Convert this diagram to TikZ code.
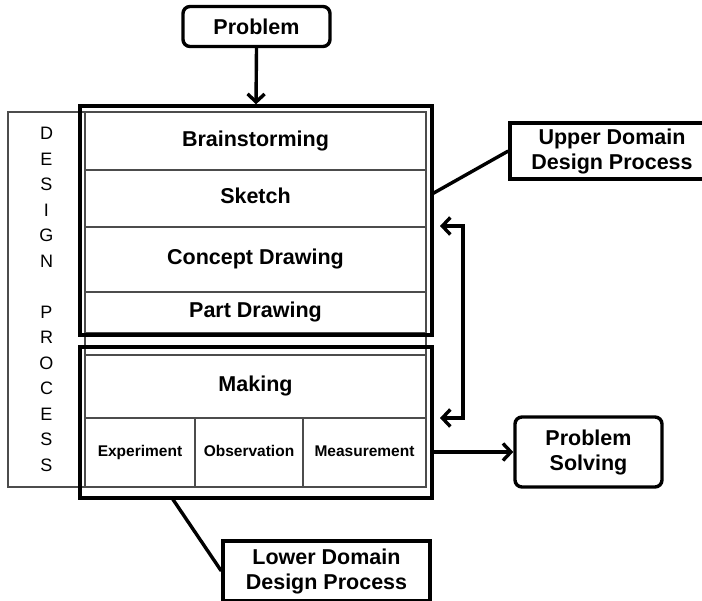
\documentclass[tikz,border=0pt]{standalone}
\usepackage{fontspec}
\setmainfont{Liberation Sans}
\usetikzlibrary{arrows.meta}
\begin{document}
\begin{tikzpicture}[x=1pt,y=-1pt,
  >={Straight Barb[length=8pt,width=17pt,line width=3.4pt]},
  thickline/.style={line width=3.4pt},
  thin/.style={draw=black!70,line width=1.5pt},
  bigfont/.style={font=\fontsize{21.5}{25}\selectfont\bfseries},
  rbox/.style={draw,thickline,rounded corners=7pt,bigfont,align=center,inner sep=0pt},
  sbox/.style={draw,thickline,bigfont,align=center,inner sep=0pt},
  frame/.style={draw,thickline,inner sep=0pt},
  cell/.style={thin,inner sep=0pt,bigfont,text height=15.5pt,text depth=4.5pt},
  scell/.style={thin,inner sep=0pt,font=\fontsize{15.5}{18}\selectfont\bfseries,text height=11.5pt,text depth=3.5pt},
  arr/.style={thickline,->},
  darr/.style={thickline,<->}
]
\useasboundingbox (0,0) rectangle (702,601);
% table cells
\node[thin,minimum width=77,minimum height=375,inner sep=0pt,align=center,
      font=\fontsize{18}{25.5}\selectfont] (dp) at (46.5,299.5)
  {D\\E\\S\\I\\G\\N\\[25.5pt]P\\R\\O\\C\\E\\S\\S};
\node[cell,minimum width=341,minimum height=58] (brain) at (255.5,141) {Brainstorming};
\node[cell,minimum width=341,minimum height=57] (sketch) at (255.5,198.5) {Sketch};
\node[cell,minimum width=341,minimum height=65] (concept) at (255.5,259.5) {Concept Drawing};
\node[cell,minimum width=341,minimum height=41] (part) at (255.5,312.5) {Part Drawing};
\node[thin,minimum width=341,minimum height=22,inner sep=0pt] (gap) at (255.5,344) {};
\node[cell,minimum width=341,minimum height=63] (making) at (255.5,386.5) {Making};
\node[scell,minimum width=110,minimum height=69] (exp) at (140,452.5) {Experiment};
\node[scell,minimum width=108,minimum height=69] (obs) at (249,452.5) {Observation};
\node[scell,minimum width=123,minimum height=69] (meas) at (364.5,452.5) {Measurement};
% thick frames
\node[frame,minimum width=352,minimum height=229] (upper) at (256,220.5) {};
\node[frame,minimum width=352,minimum height=151] (lower) at (256,422.5) {};
% outer boxes
\node[rbox,minimum width=147,minimum height=40] (prob) at (256.5,26.5) {Problem};
\node[sbox,minimum width=204,minimum height=56] (udom) at (612,151) {Upper Domain\\Design Process};
\node[sbox,minimum width=207,minimum height=60] (ldom) at (326.5,571) {Lower Domain\\Design Process};
\node[rbox,minimum width=147,minimum height=70] (ps) at (588.5,452) {Problem\\Solving};
% connectors
\draw[arr] (prob.south) -- (upper.north);
\coordinate (ua) at (432,194);
\draw[thickline] (ua) -- (udom.west);
\coordinate (la) at (172,498);
\draw[thickline] (la) -- (ldom.west);
\coordinate (dt) at (440,226);
\coordinate (db) at (440,418);
\draw[darr] (dt) -- (463,226) -- (463,418) -- (db);
\coordinate (ma) at (432,452);
\draw[arr] (ma) -- (ps.west);
\end{tikzpicture}
\end{document}
